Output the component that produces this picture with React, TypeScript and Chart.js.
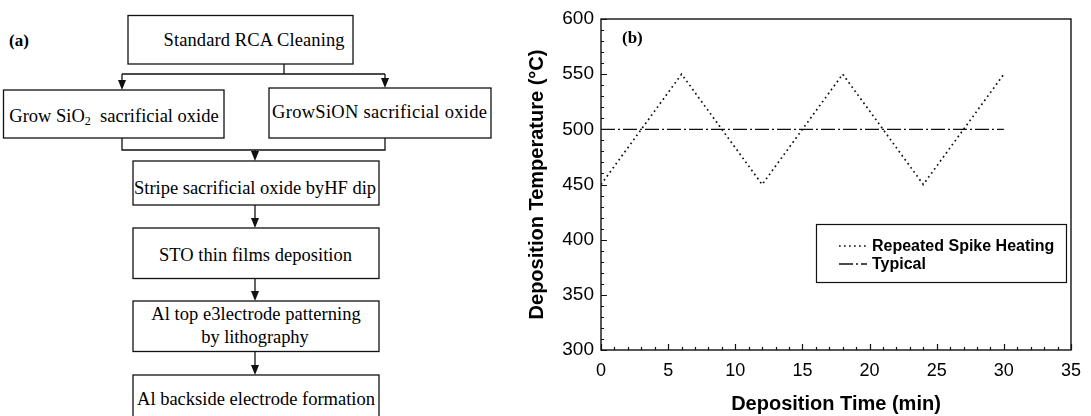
import React, { useEffect, useRef } from "react";
import { Chart, registerables } from "chart.js";
Chart.register(...registerables);

// ---- chart data ----
const spikeTime = [0, 6, 12, 18, 24, 30];
const spikeTemp = [450, 550, 450, 550, 450, 550];
const typicalTime = [0, 30];
const typicalTemp = [500, 500];
const seriesLabels = ["Repeated Spike Heating", "Typical"];
const xRange = [0, 35];
const yRange = [300, 600];
const xTitle = "Deposition Time (min)";
const yTitle = "Deposition Temperature (\u00B0C)";

// ---- flowchart text ----
const stepTexts = [
  "Standard RCA Cleaning",
  "GrowSiON sacrificial oxide",
  "Stripe sacrificial oxide byHF dip",
  "STO thin films deposition",
  "Al top e3lectrode patterning",
  "by lithography",
  "Al backside electrode formation",
];

const SANS = "'Liberation Sans', Arial, Helvetica, sans-serif";
const SERIF = "'Liberation Serif', 'Times New Roman', serif";

const framePlugin = {
  id: "frameTicks",
  afterDatasetsDraw(chart: any) {
    const { ctx, chartArea: ca, scales } = chart;
    const xs = scales.x;
    const ys = scales.y;
    ctx.save();
    ctx.strokeStyle = "#111";
    ctx.lineWidth = 1.4;
    ctx.strokeRect(ca.left, ca.top, ca.right - ca.left, ca.bottom - ca.top);
    ctx.lineWidth = 1.2;
    ctx.beginPath();
    for (let v = xRange[0]; v <= xRange[1]; v += 1) {
      const px = Math.round(xs.getPixelForValue(v)) + 0.5;
      const len = v % 5 === 0 ? 6 : 3;
      ctx.moveTo(px, ca.bottom);
      ctx.lineTo(px, ca.bottom - len);
    }
    for (let v = yRange[0]; v <= yRange[1]; v += 10) {
      const py = Math.round(ys.getPixelForValue(v)) + 0.5;
      const len = v % 50 === 0 ? 6 : 3;
      ctx.moveTo(ca.left, py);
      ctx.lineTo(ca.left + len, py);
    }
    ctx.stroke();
    ctx.restore();
  },
  afterDraw(chart: any) {
    const { ctx, chartArea: ca } = chart;
    const w = 250;
    const h = 58;
    const bx = ca.right - 5 - w;
    const by = ca.top + 205;
    ctx.save();
    ctx.strokeStyle = "#111";
    ctx.lineWidth = 1.2;
    ctx.strokeRect(bx + 0.5, by + 0.5, w, h);
    const rows = [by + 22, by + 40];
    chart.data.datasets.forEach((ds: any, i: number) => {
      const y = rows[i];
      ctx.beginPath();
      ctx.setLineDash(ds.borderDash || []);
      ctx.lineWidth = ds.borderWidth;
      ctx.strokeStyle = ds.borderColor;
      ctx.moveTo(bx + 23, y);
      ctx.lineTo(bx + 51, y);
      ctx.stroke();
      ctx.setLineDash([]);
      ctx.fillStyle = "#000";
      ctx.font = `bold 16px ${SANS}`;
      ctx.textBaseline = "middle";
      ctx.textAlign = "left";
      ctx.fillText(ds.label, bx + 56, y + 1);
    });
    ctx.restore();
  },
};

function PlotB() {
  const ref = useRef<HTMLCanvasElement | null>(null);
  useEffect(() => {
    if (!ref.current) return;
    const chart = new Chart(ref.current, {
      type: "line",
      data: {
        datasets: [
          {
            label: seriesLabels[0],
            data: spikeTime.map((t, i) => ({ x: t, y: spikeTemp[i] })),
            borderColor: "#111",
            borderWidth: 1.7,
            borderDash: [1.7, 3.3],
            pointRadius: 0,
            tension: 0,
            fill: false,
          },
          {
            label: seriesLabels[1],
            data: typicalTime.map((t, i) => ({ x: t, y: typicalTemp[i] })),
            borderColor: "#111",
            borderWidth: 1.4,
            borderDash: [14, 3, 2, 3],
            pointRadius: 0,
            tension: 0,
            fill: false,
          },
        ],
      },
      options: {
        animation: false,
        responsive: false,
        maintainAspectRatio: false,
        layout: { padding: { left: 5, top: 19, right: 12, bottom: 0 } },
        plugins: { legend: { display: false }, tooltip: { enabled: false } },
        scales: {
          x: {
            type: "linear",
            min: xRange[0],
            max: xRange[1],
            ticks: {
              stepSize: 5,
              color: "#000",
              font: { family: SANS, size: 18 },
              padding: 10,
              maxRotation: 0,
            },
            grid: { display: false, drawTicks: false },
            border: { display: false },
            title: {
              display: true,
              text: xTitle,
              color: "#000",
              font: { family: SANS, size: 20, weight: "bold" },
              padding: 0,
            },
            afterFit: (s: any) => {
              s.height = 66;
            },
          },
          y: {
            type: "linear",
            min: yRange[0],
            max: yRange[1],
            ticks: {
              stepSize: 50,
              color: "#000",
              font: { family: SANS, size: 19 },
              padding: 7,
            },
            grid: { display: false, drawTicks: false },
            border: { display: false },
            title: {
              display: true,
              text: yTitle,
              color: "#000",
              font: { family: SANS, size: 20, weight: "bold" },
              padding: 0,
            },
            afterFit: (s: any) => {
              s.width = 76;
            },
          },
        },
      } as any,
      plugins: [framePlugin],
    });
    return () => chart.destroy();
  }, []);
  return (
    <canvas
      ref={ref}
      width={571}
      height={416}
      style={{ position: "absolute", left: 520, top: 0, width: 571, height: 416 }}
    />
  );
}

function Arrow({ x, y1, y2 }: { x: number; y1: number; y2: number }) {
  return (
    <g>
      <line x1={x} y1={y1} x2={x} y2={y2 - 8} stroke="#111" strokeWidth={1.3} />
      <path d={`M ${x - 4} ${y2 - 10} L ${x + 4} ${y2 - 10} L ${x} ${y2} Z`} fill="#111" />
    </g>
  );
}

function Flow() {
  const st = { fill: "none", stroke: "#111", strokeWidth: 1.3 };
  const tx = { fontFamily: SERIF, fontSize: 18.5, fill: "#000", textAnchor: "middle" as const, dominantBaseline: "central" as const };
  return (
    <svg width={540} height={416} style={{ position: "absolute", left: 0, top: 0 }}>
      <text x={9} y={40} style={{ fontFamily: SERIF, fontSize: 17, fontWeight: "bold" }} dominantBaseline="central">(a)</text>
      {/* boxes */}
      <rect x={128} y={15.5} width={225} height={48.5} {...st} />
      <rect x={3.5} y={90} width={220.5} height={48} {...st} />
      <rect x={269} y={88} width={222} height={50} {...st} />
      <rect x={133} y={161} width={246} height={44} {...st} />
      <rect x={133} y={228} width={246} height={50.5} {...st} />
      <rect x={133} y={301} width={246} height={50.5} {...st} />
      <rect x={133} y={375} width={246} height={60} {...st} />
      {/* connectors */}
      <line x1={284} y1={64} x2={284} y2={74} stroke="#111" strokeWidth={1.3} />
      <line x1={122} y1={74} x2={385} y2={74} stroke="#111" strokeWidth={1.3} />
      <Arrow x={122} y1={74} y2={90} />
      <Arrow x={385} y1={74} y2={88} />
      <polyline points="122,138 122,150 385,150 385,138" {...st} />
      <Arrow x={255} y1={150} y2={161} />
      <Arrow x={255} y1={205} y2={228} />
      <Arrow x={255} y1={278.5} y2={301} />
      <Arrow x={255} y1={351.5} y2={375} />
      {/* texts */}
      <text x={254} y={39.5} {...tx} textLength={181} lengthAdjust="spacing">{stepTexts[0]}</text>
      <text x={114} y={116} {...tx}>
        Grow SiO<tspan fontSize={12} dy={5}>2</tspan><tspan dy={-5}>{"\u00A0\u00A0"}sacrificial oxide</tspan>
      </text>
      <text x={379.5} y={112} {...tx} textLength={215} lengthAdjust="spacing">{stepTexts[1]}</text>
      <text x={255} y={188} {...tx} textLength={242} lengthAdjust="spacing">{stepTexts[2]}</text>
      <text x={255.5} y={255} {...tx} textLength={193} lengthAdjust="spacing">{stepTexts[3]}</text>
      <text x={256} y={313.5} {...tx} textLength={209.5} lengthAdjust="spacing">{stepTexts[4]}</text>
      <text x={255} y={337} {...tx} textLength={107.6} lengthAdjust="spacing">{stepTexts[5]}</text>
      <text x={256} y={399} {...tx} textLength={238} lengthAdjust="spacing">{stepTexts[6]}</text>
    </svg>
  );
}

export default function App() {
  return (
    <div style={{ position: "absolute", left: 0, top: 0, width: 1091, height: 416, background: "#fff", overflow: "hidden" }}>
      <Flow />
      <PlotB />
      <div
        style={{
          position: "absolute",
          left: 622,
          top: 27,
          fontFamily: SERIF,
          fontSize: 17,
          fontWeight: "bold",
          lineHeight: "22px",
          color: "#000",
        }}
      >
        (b)
      </div>
    </div>
  );
}
